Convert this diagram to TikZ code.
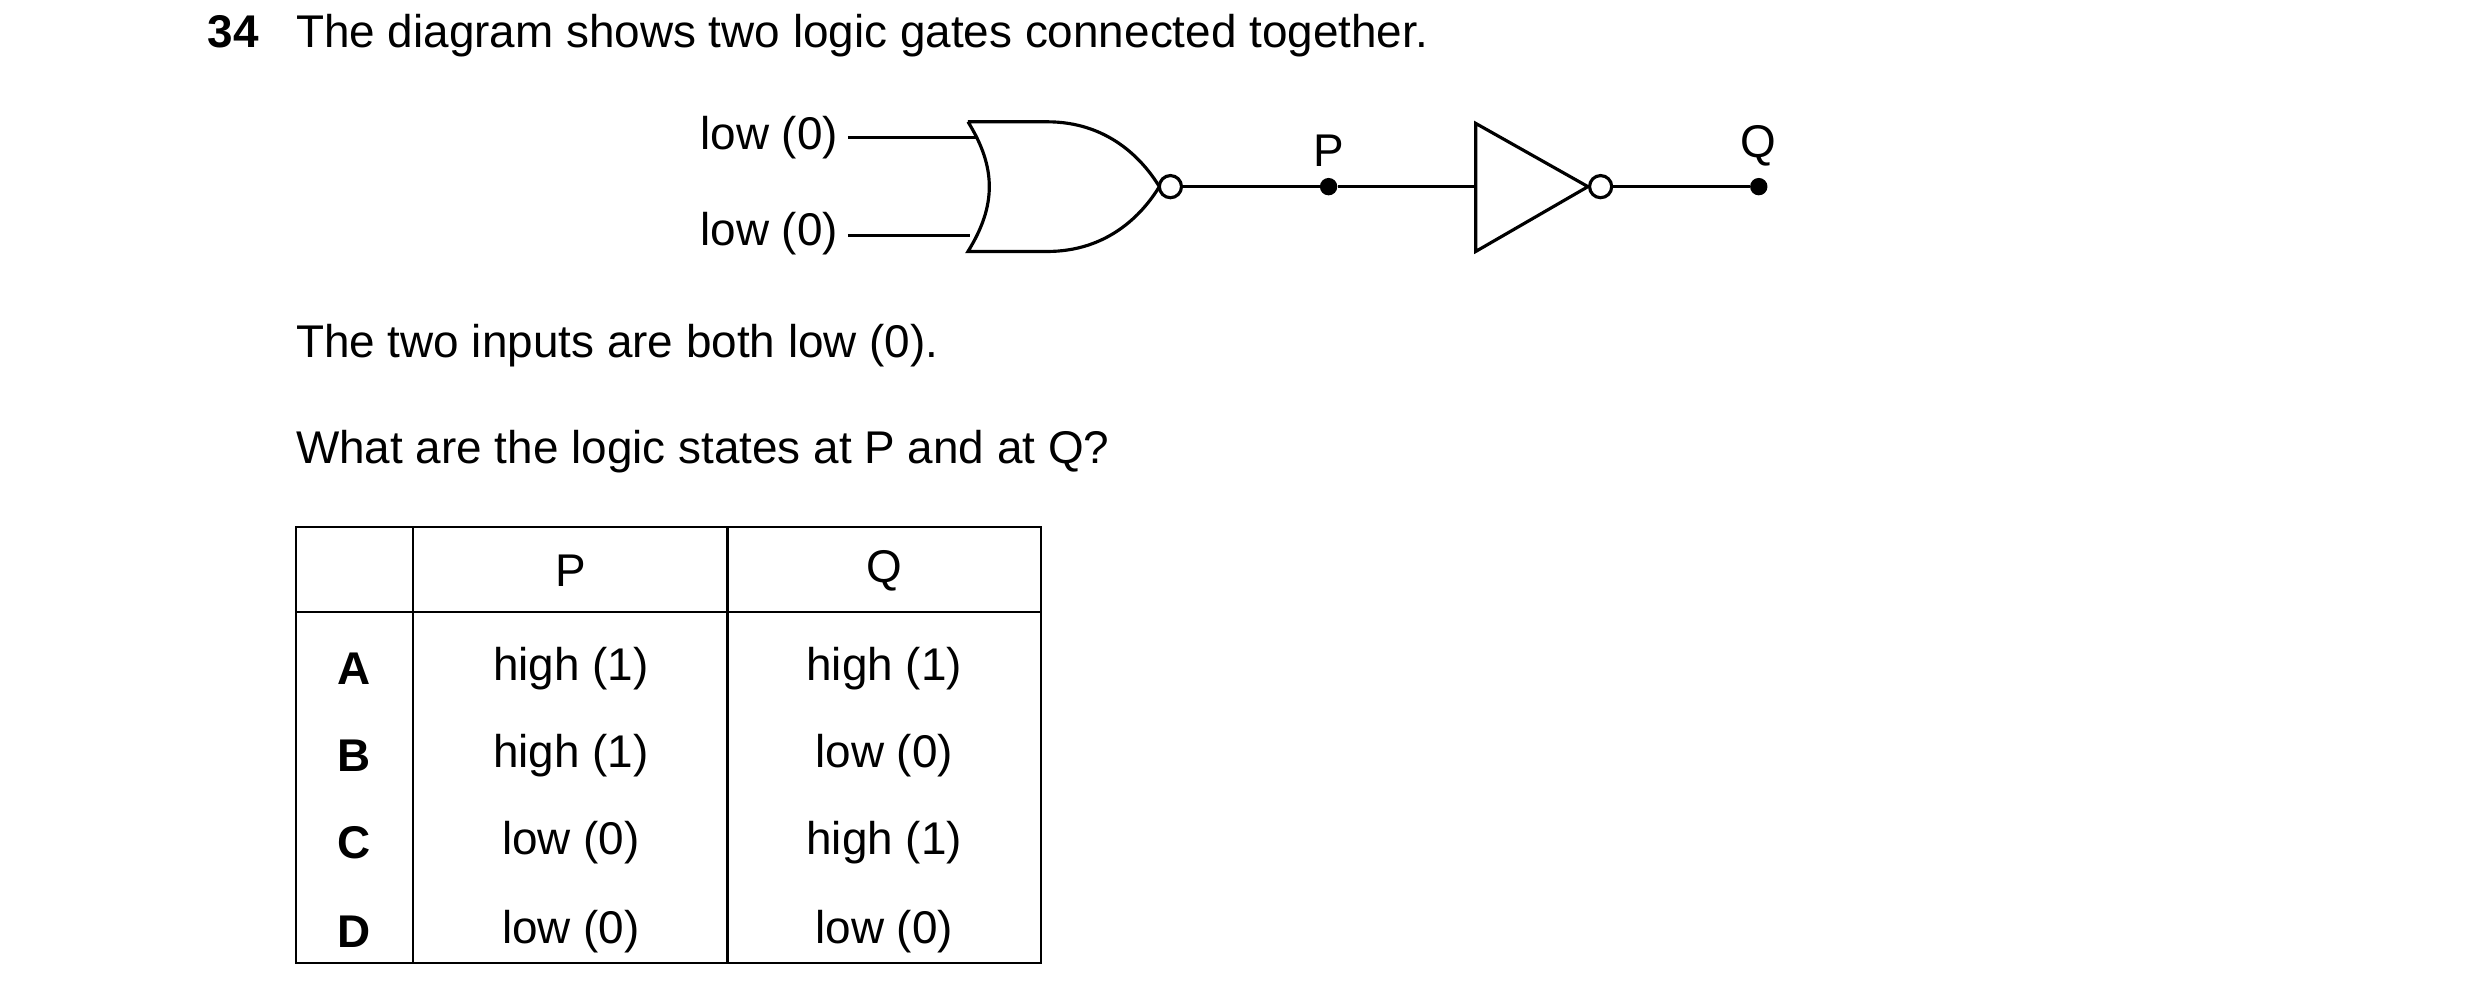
\documentclass[tikz,border=0pt]{standalone}
\usepackage{fontspec}
\setmainfont{Liberation Sans}
\usetikzlibrary{positioning}
\begin{document}
\begin{tikzpicture}[x=1pt,y=-1pt,
  txt/.style={font=\fontsize{29}{33}\selectfont, inner sep=0pt},
  wire/.style={line width=2pt},
  tab/.style={line width=1.5pt},
  bub/.style={circle, draw, line width=2pt, fill=white, minimum size=14pt, inner sep=0pt},
  dotn/.style={circle, fill=black, minimum size=11pt, inner sep=0pt}]
\useasboundingbox (0,0) rectangle (1568,635);
\node[txt, anchor=base west, font=\fontsize{29}{33}\selectfont\bfseries] (num) at (131,30) {34};
\node[txt, anchor=base west] (t1) at (187,30) {The diagram shows two logic gates connected together.};
\node[txt, anchor=east] (in1) at (530,87) {low (0)};
\node[txt, anchor=east] (in2) at (530,148) {low (0)};
\coordinate (a1) at (617,87);
\coordinate (a2) at (613,149);
\draw[wire] (in1.east) ++(6,0) -- (a1);
\draw[wire] (in2.east) ++(6,1) -- (a2);
% NOR gate
\draw[wire] (612,77) -- (662,77) .. controls (700,77) and (722,100) .. (733,118)
  .. controls (722,136) and (700,159) .. (662,159) -- (612,159)
  .. controls (630,130) and (630,106) .. (612,77);
\node[bub] (b1) at (740,118) {};
\node[dotn] (p) at (840,118) {};
\node[txt, above=7pt of p] (pl) {P};
\coordinate (nin) at (933,118);
\draw[wire] (933,78) -- (1004,118) -- (933,159) -- cycle;
\node[bub] (b2) at (1012,118) {};
\node[dotn] (q) at (1112,118) {};
\node[txt, above=7pt of q] (ql) {Q};
\draw[wire] (b1) -- (p) -- (nin);
\draw[wire] (b2) -- (q);
\node[txt, anchor=base west] (t2) at (187,226) {The two inputs are both low (0).};
\node[txt, anchor=base west] (t3) at (187,293) {What are the logic states at P and at Q?};
% table
\draw[tab] (187,333) rectangle (658,609);
\draw[tab] (187,387) -- (658,387);
\draw[tab] (261,333) -- (261,609);
\draw[tab] (460,333) -- (460,609);
\node[txt] (hp) at (361,361) {P};
\node[txt] (hq) at (559,361) {Q};
\foreach \l/\p/\q/\y in {A/high (1)/high (1)/423, B/high (1)/low (0)/478, C/low (0)/high (1)/533, D/low (0)/low (0)/589}{
  \node[txt, font=\fontsize{29}{33}\selectfont\bfseries] at (224,\y) {\l};
  \node[txt] at (361,\y) {\p};
  \node[txt] at (559,\y) {\q};
}
\end{tikzpicture}
\end{document}
